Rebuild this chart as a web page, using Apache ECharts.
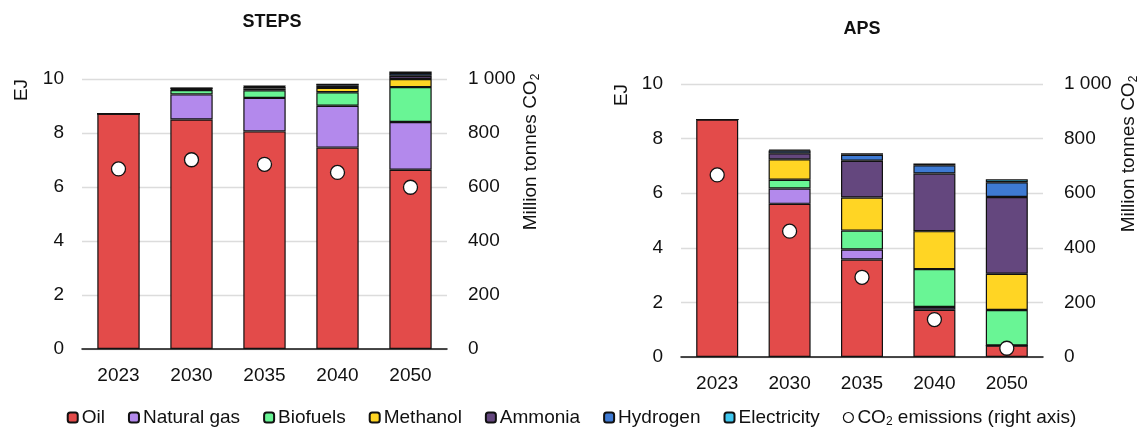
<!DOCTYPE html>
<html>
<head>
<meta charset="utf-8">
<script src="https://cdn.jsdelivr.net/npm/echarts@6/dist/echarts.min.js"></script>
<style>
html,body{margin:0;padding:0;background:#fff;}
#c{width:1143px;height:434px;}
</style>
</head>
<body>
<div id="c"></div>
<script>
const categories = ['2023', '2030', '2035', '2040', '2050'];

// STEPS (EJ)
const stepsOil = [8.72, 8.50, 8.06, 7.46, 6.64];
const stepsGas = [0, 0.93, 1.24, 1.55, 1.77];
const stepsBio = [0, 0.16, 0.28, 0.50, 1.29];
const stepsMeth = [0, 0.03, 0.07, 0.16, 0.30];
const stepsAmm = [0, 0.02, 0.05, 0.08, 0.12];
const stepsHyd = [0, 0.02, 0.04, 0.05, 0.10];
const stepsElec = [0, 0, 0, 0, 0.06];
const stepsCO2 = [667, 701, 684, 654, 599];

// APS (EJ)
const apsOil = [8.70, 5.61, 3.57, 1.73, 0.42];
const apsGas = [0, 0.56, 0.37, 0.10, 0];
const apsBio = [0, 0.32, 0.69, 1.39, 1.30];
const apsMeth = [0, 0.75, 1.21, 1.39, 1.33];
const apsAmm = [0, 0.22, 1.35, 2.11, 2.81];
const apsHyd = [0, 0.10, 0.22, 0.30, 0.54];
const apsElec = [0, 0.03, 0.05, 0.07, 0.11];
const apsCO2 = [667, 461, 292, 137, 32];

const leftTicks = [0, 2, 4, 6, 8, 10];
const rightTicks = [0, 200, 400, 600, 800, 1000];

const names = ['Oil', 'Natural gas', 'Biofuels', 'Methanol', 'Ammonia', 'Hydrogen', 'Electricity'];
const colors = ['#E34B4A', '#B389EC', '#69F595', '#FFD524', '#64477E', '#3E7AD3', '#40C8F0'];
const co2Name = 'CO2 emissions (right axis)';

const FONT = 'Liberation Sans, Arial, sans-serif';
const stepsData = [stepsOil, stepsGas, stepsBio, stepsMeth, stepsAmm, stepsHyd, stepsElec];
const apsData = [apsOil, apsGas, apsBio, apsMeth, apsAmm, apsHyd, apsElec];

function barSeries(data, idx, stack) {
  return names.map((n, i) => ({
    name: n, type: 'bar', stack: stack, xAxisIndex: idx, yAxisIndex: idx * 2,
    data: data[i], barCategoryGap: '42%', clip: false,
    itemStyle: { color: colors[i], borderColor: '#111', borderWidth: 1.2 },
    emphasis: { disabled: true }
  }));
}
function co2Series(data, idx) {
  return {
    name: co2Name, type: 'scatter', xAxisIndex: idx, yAxisIndex: idx * 2 + 1,
    data: data, symbol: 'circle', symbolSize: 14, z: 10,
    itemStyle: { color: '#ffffff', opacity: 1, borderColor: '#111', borderWidth: 1.3 },
    emphasis: { disabled: true }
  };
}
const fmtRight = v => (v >= 1000 ? String(v).replace(/(\d)(\d{3})$/, '$1 $2') : String(v));

function xAxis(gi) {
  return {
    type: 'category', gridIndex: gi, data: categories,
    axisLine: { lineStyle: { color: '#111', width: 1.5 } },
    axisTick: { show: false },
    axisLabel: { color: '#111', fontSize: 19, fontFamily: FONT, margin: 17 }
  };
}
function yLeft(gi) {
  return {
    type: 'value', gridIndex: gi, min: leftTicks[0], max: leftTicks[leftTicks.length - 1], interval: 2,
    axisLine: { show: false }, axisTick: { show: false },
    splitLine: { show: true, lineStyle: { color: '#dcdcdc', width: 1.3 } },
    axisLabel: { color: '#111', fontSize: 19, fontFamily: FONT, margin: 18 }
  };
}
function yRight(gi) {
  return {
    type: 'value', gridIndex: gi, position: 'right', min: rightTicks[0], max: rightTicks[rightTicks.length - 1], interval: 200,
    axisLine: { show: false }, axisTick: { show: false }, splitLine: { show: false },
    axisLabel: { color: '#111', fontSize: 19, fontFamily: FONT, margin: 21, formatter: fmtRight }
  };
}

const rich = {
  a: { fontSize: 19, fontFamily: FONT, color: '#111' },
  sub: { fontSize: 12, fontFamily: FONT, color: '#111', padding: [9, 0, 0, 0] }
};
function rotText(x, y, text, r) {
  return {
    type: 'text', x: x, y: y, rotation: Math.PI / 2,
    style: { text: text, rich: r || undefined, font: '19px ' + FONT, fill: '#111', textAlign: 'center', textVerticalAlign: 'middle' }
  };
}
const rich2 = {
  a: { fontSize: 19, fontFamily: FONT, fill: '#111', color: '#111' },
  sub: { fontSize: 12, fontFamily: FONT, fill: '#111', color: '#111', padding: [9, 0, 0, 0] }
};

const chart = echarts.init(document.getElementById('c'), null, { renderer: 'canvas' });
chart.setOption({
  animation: false,
  backgroundColor: '#fff',
  grid: [
    { left: 82, right: 696, top: 79, bottom: 85 },
    { left: 681, right: 100, top: 84, bottom: 77 }
  ],
  xAxis: [xAxis(0), xAxis(1)],
  yAxis: [yLeft(0), yRight(0), yLeft(1), yRight(1)],
  legend: {
    bottom: 1, left: 'center', itemWidth: 10, itemHeight: 10, itemGap: 23,
    data: names.concat([{ name: co2Name, icon: 'circle', itemStyle: { color: '#fff', opacity: 1, borderColor: '#111', borderWidth: 1.2 } }]),
    textStyle: { fontSize: 19, fontFamily: FONT, color: '#111', padding: [0, 0, 0, -1], rich: rich },
    formatter: n => (n === co2Name ? '{a|CO}{sub|2}{a| emissions (right axis)}' : n)
  },
  graphic: [
    { type: 'text', x: 272, y: 22, style: { text: 'STEPS', font: 'bold 18px ' + FONT, fill: '#111', textAlign: 'center', textVerticalAlign: 'middle' } },
    { type: 'text', x: 862, y: 29, style: { text: 'APS', font: 'bold 18px ' + FONT, fill: '#111', textAlign: 'center', textVerticalAlign: 'middle' } },
    rotText(22, 90, 'EJ'),
    rotText(531, 152, '{a|Million tonnes CO}{sub|2}', rich2),
    rotText(622, 95, 'EJ'),
    rotText(1129, 154, '{a|Million tonnes CO}{sub|2}', rich2)
  ],
  series: barSeries(stepsData, 0, 'steps')
    .concat([co2Series(stepsCO2, 0)])
    .concat(barSeries(apsData, 1, 'aps'))
    .concat([co2Series(apsCO2, 1)])
});
</script>
</body>
</html>
